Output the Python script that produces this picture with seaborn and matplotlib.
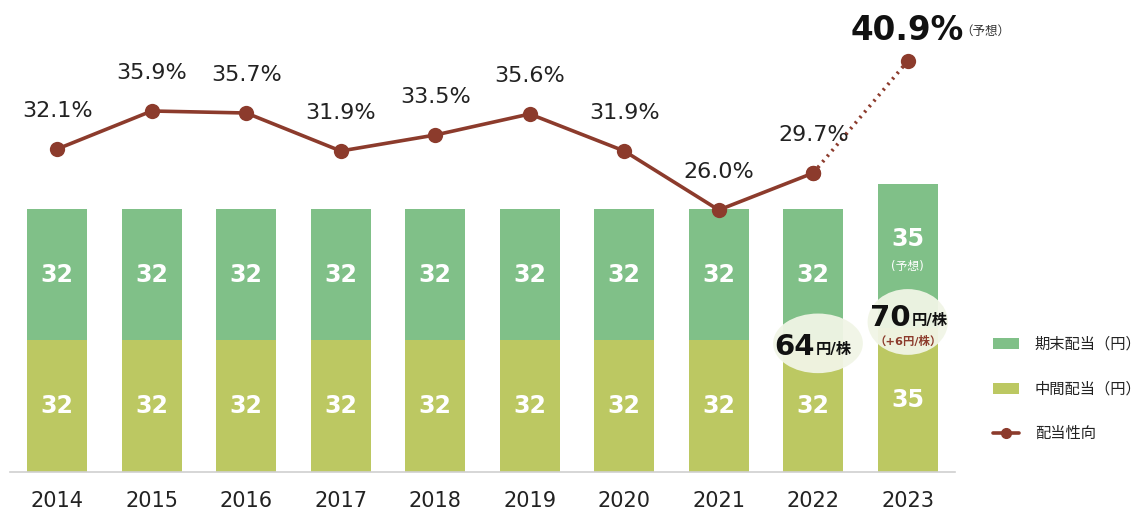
import matplotlib
matplotlib.use("Agg")
import matplotlib.pyplot as plt
import seaborn as sns
import pandas as pd
from matplotlib.patches import Ellipse, Patch
from matplotlib.lines import Line2D

years = ["2014", "2015", "2016", "2017", "2018", "2019", "2020", "2021", "2022", "2023"]
interim = [32, 32, 32, 32, 32, 32, 32, 32, 32, 35]
year_end = [32, 32, 32, 32, 32, 32, 32, 32, 32, 35]
payout = [32.1, 35.9, 35.7, 31.9, 33.5, 35.6, 31.9, 26.0, 29.7, 40.9]

sns.set_theme(style="white")
plt.rcParams["font.family"] = ["DejaVu Sans", "Noto Sans CJK JP"]

GREEN = "#80C088"
OLIVE = "#BCC862"
BROWN = "#8C3B2C"

df = pd.DataFrame({"year": years, "interim": interim, "year_end": year_end})
df["total"] = df["interim"] + df["year_end"]

fig = plt.figure(figsize=(11.48, 5.14), dpi=100)
ax = fig.add_axes([10 / 1148, 42 / 514, 945 / 1148, 462 / 514])

sns.barplot(data=df, x="year", y="total", color=GREEN, width=0.636, ax=ax,
            saturation=1, errorbar=None, linewidth=0)
sns.barplot(data=df, x="year", y="interim", color=OLIVE, width=0.636, ax=ax,
            saturation=1, errorbar=None, linewidth=0)
ax.set_xlim(-0.5, 9.5)
ax.set_ylim(0, 112.4)
ax.set_xlabel("")
ax.set_ylabel("")
ax.set_yticks([])
for s in ["top", "left", "right"]:
    ax.spines[s].set_visible(False)
ax.spines["bottom"].set_color("#D0D0D0")
ax.spines["bottom"].set_linewidth(1.2)
ax.tick_params(axis="x", length=0, labelsize=15, colors="#222222", pad=14)

# bar value labels
for i in range(len(years)):
    b, t = interim[i], year_end[i]
    ax.text(i, b / 2, str(b), ha="center", va="center", color="white",
            fontsize=17, fontweight="bold")
    if i == len(years) - 1:
        ax.text(i, b + t / 2 + 4.3, str(t), ha="center", va="center", color="white",
                fontsize=17, fontweight="bold")
        ax.text(i, b + t / 2 - 2.4, "(予想)", ha="center", va="center", color="white",
                fontsize=8.5)
    else:
        ax.text(i, b + t / 2, str(t), ha="center", va="center", color="white",
                fontsize=17, fontweight="bold")

# secondary axis for payout ratio
ax2 = ax.twinx()
ax2.set_ylim(-0.2, 46)
ax2.set_yticks([])
for s in ["top", "left", "right", "bottom"]:
    ax2.spines[s].set_visible(False)
xs = list(range(len(years)))
sns.lineplot(x=xs[:9], y=payout[:9], ax=ax2, color=BROWN, linewidth=2.6,
             marker="o", markersize=11, markeredgewidth=0, legend=False)
sns.lineplot(x=xs[8:], y=payout[8:], ax=ax2, color=BROWN, linewidth=2.6,
             linestyle=(0, (0.6, 1.4)), marker="o", markersize=11,
             markeredgewidth=0, legend=False)
for i in range(9):
    ax2.text(xs[i], payout[i] + 3.8, f"{payout[i]:.1f}%", ha="center",
             va="center", fontsize=16, color="#222222")
ax2.text(xs[9] - 0.01, payout[9] + 3.0, f"{payout[9]:.1f}%", ha="center",
         va="center", fontsize=23.5, fontweight="bold", color="#111111")
ax2.text(xs[9] + 0.56, payout[9] + 3.0, "（予想）", ha="left", va="center",
         fontsize=9, color="#333333")

# total annotations with ellipses (in ax data coords)
ax.add_patch(Ellipse((8.05, 31.3), 0.95, 14.5, facecolor="#F1F5E6",
                     edgecolor="none", alpha=0.95, zorder=4))
ax.text(8.02, 30.5, "64", ha="right", va="center", fontsize=21,
        fontweight="bold", color="#111111", zorder=5)
ax.text(8.03, 29.8, "円/株", ha="left", va="center", fontsize=11,
        fontweight="bold", color="#111111", zorder=5)

ax.add_patch(Ellipse((9.0, 36.5), 0.85, 16, facecolor="#F1F5E6",
                     edgecolor="none", alpha=0.95, zorder=4))
ax.text(9.03, 37.5, "70", ha="right", va="center", fontsize=21,
        fontweight="bold", color="#111111", zorder=5)
ax.text(9.04, 36.8, "円/株", ha="left", va="center", fontsize=11,
        fontweight="bold", color="#111111", zorder=5)
ax.text(9.0, 31.8, "（+6円/株）", ha="center", va="center", fontsize=8.2,
        fontweight="bold", color=BROWN, zorder=5)

# legend
handles = [
    Patch(facecolor=GREEN, edgecolor="none", label="期末配当（円）"),
    Patch(facecolor=OLIVE, edgecolor="none", label="中間配当（円）"),
    Line2D([0], [0], color=BROWN, linewidth=2.6, marker="o", markersize=7,
           label="配当性向"),
]
leg = fig.legend(handles=handles, loc="center left",
                 bbox_to_anchor=(982 / 1148, 1 - 389 / 514), frameon=False,
                 fontsize=11, handlelength=1.75, handleheight=0.7,
                 labelspacing=1.95, handletextpad=1.0, borderpad=0.2)
for t in leg.get_texts():
    t.set_color("#222222")

fig.savefig("out.png", dpi=100)
